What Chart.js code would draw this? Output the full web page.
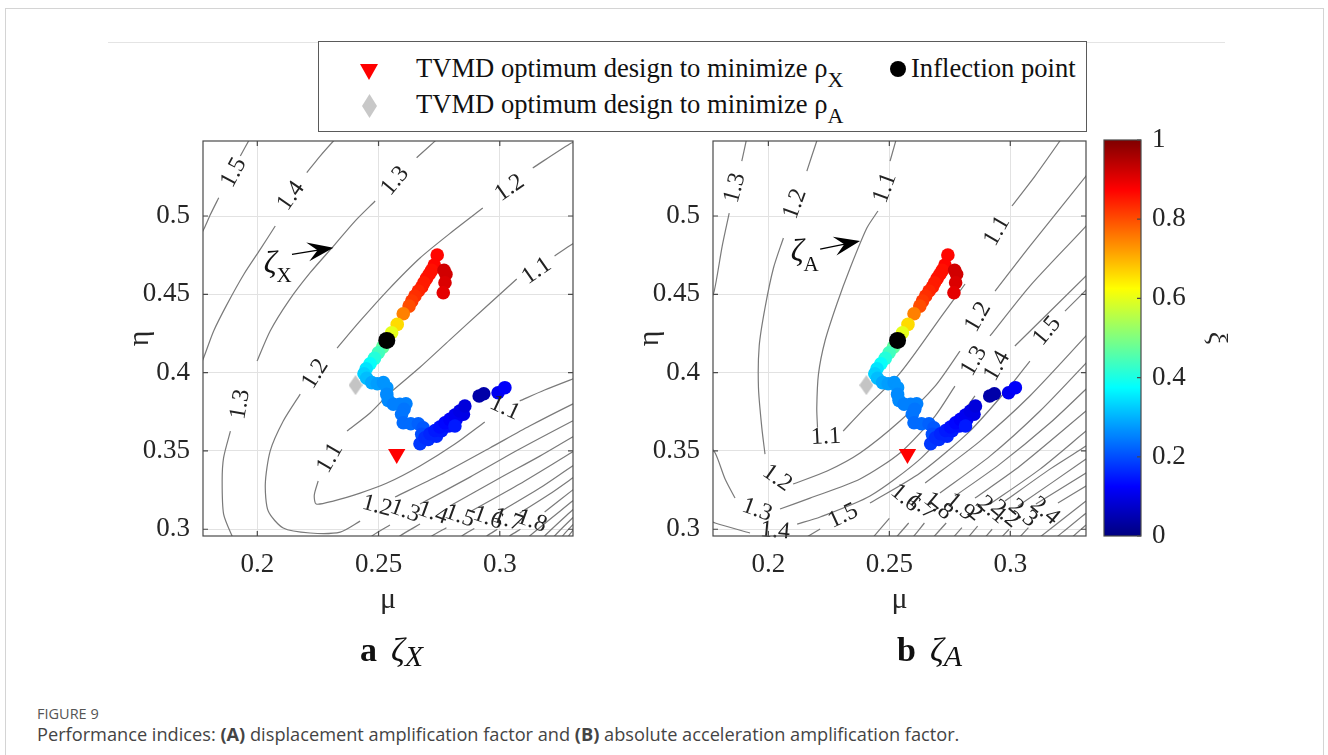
<!DOCTYPE html>
<html><head><meta charset="utf-8"><title>Figure 9</title>
<script src="https://cdn.jsdelivr.net/npm/chart.js@4.4.1/dist/chart.umd.min.js"></script>
<style>
html,body{margin:0;padding:0;background:#fff;}
body{width:1328px;height:755px;position:relative;overflow:hidden;font-family:"Liberation Serif","Times New Roman",serif;color:#111;}
#frame{position:absolute;left:5px;top:8px;width:1317px;height:760px;border:1px solid #d4d4d4;border-bottom:none;}
#rule{position:absolute;left:108px;top:42px;width:1117px;height:1px;background:#e4e4e4;}
canvas{position:absolute;}
#legend{position:absolute;left:318px;top:41px;width:767px;height:89px;border:1px solid #5a5a5a;background:#fff;}
.lt{position:absolute;font-size:26.6px;line-height:30px;white-space:nowrap;color:#111;}
.lt .sb{font-size:22px;position:relative;top:10px;}
.mk{position:absolute;}
.sub{position:absolute;font-size:34px;line-height:40px;white-space:nowrap;color:#111;}
.sub b{margin-right:14px;}
.sub .z{font-style:italic;}
.sub .s{font-style:italic;font-size:30px;position:relative;top:5px;}
.cap1{position:absolute;left:37px;top:704px;font-family:"Open Sans",sans-serif;font-size:14.5px;color:#555;}
.cap2{position:absolute;left:37px;top:722px;font-family:"Open Sans",sans-serif;font-size:18.2px;color:#444;white-space:nowrap;}
</style></head><body>
<div id="frame"></div>
<div id="rule"></div>
<canvas id="cX" width="500" height="520" style="left:100px;top:120px"></canvas>
<canvas id="cA" width="500" height="520" style="left:610px;top:120px"></canvas>
<canvas id="cB" width="200" height="520" style="left:1095px;top:120px"></canvas>
<div id="legend">
  <div class="mk" style="left:41px;top:22px;width:18px;height:16px;background:#ff0000;clip-path:polygon(0 0,100% 0,50% 100%);"></div>
  <div class="mk" style="left:43px;top:52px;width:15px;height:24px;background:#c8c8c8;clip-path:polygon(50% 0,100% 50%,50% 100%,0 50%);"></div>
  <div class="mk" style="left:571px;top:19px;width:16px;height:16px;border-radius:50%;background:#000;"></div>
  <div class="lt" style="left:97px;top:11px">TVMD optimum design to minimize ρ<span class="sb">X</span></div>
  <div class="lt" style="left:97px;top:47px">TVMD optimum design to minimize ρ<span class="sb">A</span></div>
  <div class="lt" style="left:592px;top:11px">Inflection point</div>
</div>
<div class="sub" style="left:360px;top:630px"><b>a</b><span class="z">ζ</span><span class="s">X</span></div>
<div class="sub" style="left:897px;top:630px"><b>b</b><span class="z">ζ</span><span class="s">A</span></div>
<div class="cap1">FIGURE 9</div>
<div class="cap2">Performance indices: <b>(A)</b> displacement amplification factor and <b>(B)</b> absolute acceleration amplification factor.</div>
<script>
// ---------------- data ----------------
const xTicks = [0.2, 0.25, 0.3];
const xTickLabels = ['0.2', '0.25', '0.3'];
const yTicks = [0.3, 0.35, 0.4, 0.45, 0.5];
const yTickLabels = ['0.3', '0.35', '0.4', '0.45', '0.5'];
const cbTicks = [0, 0.2, 0.4, 0.6, 0.8, 1];
const cbTickLabels = ['0', '0.2', '0.4', '0.6', '0.8', '1'];

// TVMD designs along the path (mu, eta, xi)
const designMu = [0.2742,0.2730,0.2719,0.2709,0.2698,0.2687,0.2678,0.2664,0.2650,0.2637,0.2626,0.2602,0.2577,0.2554,0.2517,0.2499,0.2483,0.2465,0.2449,0.2440,
  0.2770,0.2778,0.2774,0.2767,
  0.2451,0.2472,0.2495,0.2520,0.2534,0.2534,0.2540,0.2561,0.2588,0.2613,0.2605,0.2595,0.2602,0.2633,0.2664,0.2684,0.2678,0.2671,
  0.2691,0.2705,0.2712,0.2739,0.2733,0.2760,0.2753,0.2790,0.2774,0.2820,0.2794,0.2850,0.2815,0.2835,0.2856,0.2815,
  0.2915,0.2934,0.2993,0.3021];
const designEta = [0.4751,0.4687,0.4653,0.4628,0.4602,0.4574,0.4547,0.4521,0.4489,0.4457,0.4425,0.4376,0.4308,0.4255,0.4163,0.4127,0.4091,0.4057,0.4025,0.3993,
  0.4653,0.4628,0.4574,0.4510,
  0.3964,0.3936,0.3929,0.3936,0.3904,0.3861,0.3823,0.3798,0.3798,0.3801,0.3766,0.3734,0.3680,0.3674,0.3674,0.3648,0.3606,0.3546,
  0.3584,0.3574,0.3610,0.3595,0.3631,0.3630,0.3653,0.3660,0.3680,0.3700,0.3702,0.3735,0.3729,0.3755,0.3787,0.3659,
  0.3851,0.3865,0.3872,0.3904];
const designXi = [0.87,0.87,0.86,0.86,0.86,0.85,0.85,0.84,0.83,0.82,0.80,0.75,0.66,0.60,0.47,0.44,0.41,0.38,0.35,0.33,
  0.92,0.92,0.91,0.90,
  0.31,0.29,0.28,0.27,0.27,0.26,0.26,0.25,0.25,0.25,0.24,0.24,0.23,0.23,0.22,0.21,0.20,0.18,
  0.17,0.17,0.16,0.16,0.15,0.15,0.14,0.14,0.13,0.12,0.12,0.10,0.11,0.10,0.09,0.15,
  0.04,0.04,0.11,0.12];
const inflection = [0.2534, 0.4206];
const optX = [0.2575, 0.3480];
const optA = [0.2405, 0.3920];

// ---- contour lines of zeta_X (panel a), [mu, eta], null = label gap ----
const contX_15a = [[0.1760,0.4860],[0.1779,0.4915],[0.1807,0.5011],[0.1841,0.5117],null,[0.1930,0.5383],[0.1964,0.5479],[0.1980,0.5520]];
const contX_14a = [[0.1760,0.4040],[0.1776,0.4085],[0.1820,0.4266],[0.1875,0.4436],[0.1944,0.4627],[0.2012,0.4787],[0.2074,0.4936],null,[0.2204,0.5277],[0.2259,0.5383],[0.2314,0.5479],[0.2340,0.5520]];
const contX_13a = [[0.2760,0.5520],[0.2733,0.5479],[0.2657,0.5372],null,[0.2486,0.5096],[0.2403,0.4968],[0.2314,0.4808],[0.2218,0.4638],[0.2129,0.4457],[0.2053,0.4266],[0.1999,0.4074],null,[0.1889,0.3627],[0.1861,0.3457],[0.1855,0.3308],[0.1861,0.3097],[0.1896,0.2957],[0.1910,0.2920]];
const contX_12 = [[0.3320,0.5480],[0.3288,0.5460],[0.3136,0.5307],null,[0.2930,0.5051],[0.2807,0.4904],[0.2671,0.4732],[0.2535,0.4521],[0.2424,0.4330],[0.2329,0.4157],null,[0.2177,0.3863],[0.2107,0.3691],[0.2053,0.3499],[0.2033,0.3289],[0.2045,0.3116],[0.2107,0.3008],[0.2218,0.2976],[0.2342,0.2982],[0.2424,0.3052],null,[0.2568,0.3206],[0.2753,0.3346],[0.2959,0.3519],[0.3123,0.3659],[0.3300,0.3799],[0.3320,0.3810]];
const contX_11 = [[0.3320,0.4835],[0.3300,0.4821],[0.3226,0.4745],null,[0.3070,0.4598],[0.2938,0.4413],[0.2794,0.4209],[0.2671,0.4034],[0.2547,0.3870],[0.2465,0.3742],[0.2370,0.3627],null,[0.2251,0.3308],[0.2235,0.3218],[0.2243,0.3161],[0.2313,0.3180],[0.2424,0.3231],[0.2535,0.3295],[0.2671,0.3404],[0.2815,0.3544],[0.2938,0.3685],null,[0.3082,0.3819],[0.3185,0.3889],[0.3300,0.3959],[0.3320,0.3970]];
const contX_13b = [[0.2460,0.2930],[0.2473,0.2957],[0.2547,0.3027],null,[0.2671,0.3161],[0.2877,0.3333],[0.3082,0.3512],[0.3300,0.3691],[0.3320,0.3705]];
const contX_14b = [[0.2575,0.2930],[0.2588,0.2957],[0.2671,0.3033],null,[0.2794,0.3148],[0.3000,0.3327],[0.3165,0.3467],[0.3300,0.3589],[0.3320,0.3605]];
const contX_15b = [[0.2705,0.2930],[0.2720,0.2957],[0.2780,0.3010],null,[0.2885,0.3118],[0.3082,0.3289],[0.3300,0.3493],[0.3320,0.3510]];
const contX_16 = [[0.2830,0.2930],[0.2844,0.2957],[0.2895,0.3005],null,[0.3000,0.3110],[0.3165,0.3263],[0.3300,0.3404],[0.3320,0.3420]];
const contX_17 = [[0.2935,0.2930],[0.2947,0.2957],[0.2990,0.3000],null,[0.3082,0.3103],[0.3206,0.3225],[0.3300,0.3327],[0.3320,0.3350]];
const contX_18 = [[0.3030,0.2930],[0.3041,0.2957],[0.3085,0.3000],null,[0.3185,0.3110],[0.3300,0.3250],[0.3320,0.3275]];
const contX_19 = [[0.3115,0.2930],[0.3123,0.2957],[0.3300,0.3180],[0.3320,0.3205]];
const contX_20 = [[0.3178,0.2930],[0.3185,0.2957],[0.3300,0.3123],[0.3320,0.3150]];
const contX_21 = [[0.3220,0.2930],[0.3226,0.2957],[0.3300,0.3072],[0.3320,0.3100]];
const contX_22 = [[0.3255,0.2930],[0.3259,0.2957],[0.3300,0.3027],[0.3320,0.3060]];
const contX_23 = [[0.3281,0.2930],[0.3284,0.2957],[0.3300,0.2989],[0.3320,0.3030]];
// contour labels [mu, eta, angle deg, text]
const labelsX = [
  [0.1903,0.5277,-62,'1.5'],[0.2139,0.5128,-55,'1.4'],[0.2568,0.5224,-50,'1.3'],[0.1930,0.3797,-80,'1.3'],
  [0.3041,0.5179,-35,'1.2'],[0.2239,0.3991,-58,'1.2'],[0.2494,0.3148,15,'1.2'],
  [0.3152,0.4649,-35,'1.1'],[0.2300,0.3455,-60,'1.1'],[0.3021,0.3774,25,'1.1'],
  [0.2609,0.3116,20,'1.3'],[0.2724,0.3103,20,'1.4'],[0.2835,0.3084,20,'1.5'],[0.2951,0.3072,20,'1.6'],[0.3033,0.3059,20,'1.7'],[0.3132,0.3052,20,'1.8']
];
const arrowX = [0.2143,0.4755,0.2314,0.4798];
const zetaX = [0.2053,0.4693,'X'];

// ---- contour lines of zeta_A (panel b) ----
const contA_13a = [[0.1750,0.4420],[0.1776,0.4521],[0.1809,0.4808],[0.1838,0.5019],null,[0.1890,0.5351],[0.1908,0.5479],[0.1916,0.5543]];
const contA_12 = [[0.2215,0.5543],[0.2200,0.5479],[0.2159,0.5287],null,[0.2062,0.4860],[0.2021,0.4668],[0.1986,0.4413],[0.1962,0.4170],[0.1959,0.3902],[0.1973,0.3646],[0.1986,0.3480],null,[0.2102,0.3289],[0.2243,0.3372],[0.2379,0.3487],[0.2544,0.3691],[0.2689,0.3914],[0.2792,0.4138],null,[0.2937,0.4521],[0.3081,0.4808],[0.3313,0.5255],[0.3340,0.5310]];
const contA_11 = [[0.2540,0.5575],[0.2532,0.5511],[0.2503,0.5351],null,[0.2453,0.5032],[0.2407,0.4923],[0.2338,0.4668],[0.2283,0.4438],[0.2234,0.4202],[0.2207,0.3991],[0.2200,0.3774],[0.2203,0.3650],null,[0.2309,0.3627],[0.2379,0.3742],[0.2544,0.3997],[0.2722,0.4374],[0.2813,0.4566],null,[0.3007,0.5064],[0.3102,0.5255],[0.3205,0.5479],[0.3247,0.5575]];
const contA_13b = [[0.1738,0.3563],[0.1780,0.3487],[0.1821,0.3321],[0.1862,0.3199],null,[0.2048,0.3129],[0.2172,0.3199],[0.2379,0.3321],[0.2544,0.3487],[0.2689,0.3723],[0.2771,0.3914],null,[0.2916,0.4234],[0.3081,0.4553],[0.3313,0.4936],[0.3340,0.4990]];
const contA_14 = [[0.1738,0.3065],[0.1780,0.3040],[0.1924,0.2976],null,[0.2119,0.3033],[0.2214,0.3078],[0.2420,0.3212],[0.2627,0.3448],[0.2792,0.3723],[0.2854,0.3851],null,[0.3019,0.4170],[0.3313,0.4617],[0.3340,0.4660]];
const contA_15 = [[0.2131,0.2925],[0.2214,0.3001],null,[0.2420,0.3167],[0.2627,0.3359],[0.2833,0.3627],[0.2999,0.3914],[0.3081,0.4074],null,[0.3226,0.4393],[0.3330,0.4553]];
const contA_16 = [[0.2420,0.2925],[0.2500,0.3070],null,[0.2648,0.3295],[0.2875,0.3563],[0.3081,0.3851],[0.3313,0.4234],[0.3340,0.4280]];
const contA_17 = [[0.2515,0.2925],[0.2580,0.3040],null,[0.2709,0.3231],[0.2916,0.3467],[0.3123,0.3755],[0.3313,0.4061],[0.3340,0.4110]];
const contA_18 = [[0.2585,0.2925],[0.2645,0.3040],null,[0.2771,0.3212],[0.2957,0.3416],[0.3164,0.3678],[0.3313,0.3895],[0.3340,0.3940]];
const contA_19 = [[0.2668,0.2925],[0.2735,0.3040],null,[0.2854,0.3199],[0.3040,0.3404],[0.3313,0.3755],[0.3340,0.3790]];
const contA_20 = [[0.2751,0.2925],[0.2800,0.3010],null,[0.2916,0.3161],[0.3123,0.3384],[0.3313,0.3627],[0.3340,0.3660]];
const contA_21 = [[0.2813,0.2925],[0.2865,0.3020],null,[0.2978,0.3180],[0.3164,0.3384],[0.3313,0.3531],[0.3340,0.3560]];
const contA_22 = [[0.2883,0.2925],[0.2925,0.3000],null,[0.3032,0.3148],[0.3313,0.3448],[0.3340,0.3480]];
const contA_23 = [[0.2949,0.2925],[0.2995,0.3000],null,[0.3106,0.3161],[0.3313,0.3359],[0.3340,0.3390]];
const contA_24 = [[0.3024,0.2925],[0.3075,0.3010],null,[0.3197,0.3167],[0.3313,0.3276],[0.3340,0.3300]];
const contA_25 = [[0.3102,0.2925],[0.3313,0.3180],[0.3340,0.3210]];
const contA_26 = [[0.3172,0.2925],[0.3313,0.3103],[0.3340,0.3130]];
const contA_27 = [[0.3238,0.2925],[0.3313,0.3027],[0.3340,0.3060]];
const labelsA = [
  [0.1862,0.5179,-75,'1.3'],[0.2110,0.5077,-70,'1.2'],[0.2482,0.5179,-70,'1.1'],[0.2945,0.4904,-60,'1.1'],
  [0.2238,0.3589,-3,'1.1'],[0.2036,0.3327,35,'1.2'],[0.2867,0.4355,-60,'1.2'],
  [0.1953,0.3123,20,'1.3'],[0.2850,0.4074,-60,'1.3'],[0.2028,0.2989,5,'1.4'],[0.2945,0.4042,-60,'1.4'],
  [0.2309,0.3084,-25,'1.5'],[0.3152,0.4266,-50,'1.5'],
  [0.2565,0.3199,40,'1.6'],[0.2635,0.3148,40,'1.7'],[0.2701,0.3148,40,'1.8'],[0.2792,0.3142,40,'1.9'],
  [0.2854,0.3103,40,'2'],[0.2924,0.3123,40,'2.1'],[0.2978,0.3097,40,'2.2'],[0.3052,0.3103,40,'2.3'],[0.3143,0.3116,40,'2.4']
];
const arrowA = [0.2214,0.4789,0.2379,0.4840];
const zetaA = [0.2119,0.4764,'A'];

const contoursX = [contX_15a,contX_14a,contX_13a,contX_12,contX_11,contX_13b,contX_14b,contX_15b,contX_16,contX_17,contX_18,contX_19,contX_20,contX_21,contX_22,contX_23];
const contoursA = [contA_13a,contA_12,contA_11,contA_13b,contA_14,contA_15,contA_16,contA_17,contA_18,contA_19,contA_20,contA_21,contA_22,contA_23,contA_24,contA_25,contA_26,contA_27];

// ---------------- styling helpers ----------------
function clamp(v){ return Math.max(0, Math.min(1, v)); }
function jet(v){
  const r = clamp(Math.min(4*v-1.5, -4*v+4.5));
  const g = clamp(Math.min(4*v-0.5, -4*v+3.5));
  const b = clamp(Math.min(4*v+0.5, -4*v+2.5));
  return 'rgb(' + Math.round(r*255) + ',' + Math.round(g*255) + ',' + Math.round(b*255) + ')';
}
function toXY(arr){ return arr.map(p => p ? {x:p[0], y:p[1]} : {x:null, y:null}); }
function noPad(s){ s.paddingTop = 0; s.paddingBottom = 0; s.paddingLeft = 0; s.paddingRight = 0; }

const diamondImg = document.createElement('canvas');
diamondImg.width = 14; diamondImg.height = 20;
(function(){ const c = diamondImg.getContext('2d'); c.fillStyle = '#c4c4c4'; c.beginPath(); c.moveTo(7,0); c.lineTo(14,10); c.lineTo(7,20); c.lineTo(0,10); c.closePath(); c.fill(); })();

Chart.defaults.font.family = '"Liberation Serif", "Times New Roman", serif';
Chart.defaults.color = '#262626';

const decoPlugin = {
  id: 'deco',
  afterDatasetsDraw(chart) {
    const o = chart.options.plugins.deco;
    if (!o) return;
    const {ctx, chartArea: a} = chart;
    const xs = chart.scales.x, ys = chart.scales.y;
    ctx.save();
    // contour labels
    ctx.fillStyle = '#222';
    ctx.font = '24px "Liberation Serif"';
    ctx.textAlign = 'center'; ctx.textBaseline = 'middle';
    for (const [m, e, ang, t] of o.labels) {
      ctx.save();
      ctx.translate(xs.getPixelForValue(m), ys.getPixelForValue(e));
      ctx.rotate(ang * Math.PI / 180);
      ctx.fillText(t, 0, 0);
      ctx.restore();
    }
    // arrow annotation
    const [m0, e0, m1, e1] = o.arrow;
    const x0 = xs.getPixelForValue(m0), y0 = ys.getPixelForValue(e0);
    const x1 = xs.getPixelForValue(m1), y1 = ys.getPixelForValue(e1);
    const L = Math.hypot(x1-x0, y1-y0), ux = (x1-x0)/L, uy = (y1-y0)/L, nx = -uy, ny = ux;
    const hl = 26, hw = 9.5;
    ctx.strokeStyle = '#000'; ctx.lineWidth = 1.4;
    ctx.beginPath(); ctx.moveTo(x0, y0); ctx.lineTo(x1 - ux*hl*0.6, y1 - uy*hl*0.6); ctx.stroke();
    ctx.fillStyle = '#000';
    ctx.beginPath();
    ctx.moveTo(x1, y1);
    ctx.lineTo(x1 - ux*hl + nx*hw, y1 - uy*hl + ny*hw);
    ctx.lineTo(x1 - ux*hl*0.62, y1 - uy*hl*0.62);
    ctx.lineTo(x1 - ux*hl - nx*hw, y1 - uy*hl - ny*hw);
    ctx.closePath(); ctx.fill();
    // zeta symbol
    const zx = xs.getPixelForValue(o.zeta[0]), zy = ys.getPixelForValue(o.zeta[1]);
    ctx.fillStyle = '#111';
    ctx.font = 'italic 32px "Liberation Serif"';
    ctx.fillText('ζ', zx, zy);
    ctx.font = '21px "Liberation Serif"';
    ctx.fillText(o.zeta[2], zx + 14, zy + 12);
    // box and inward ticks
    ctx.strokeStyle = '#4a4a4a'; ctx.lineWidth = 1.2;
    ctx.strokeRect(a.left, a.top, a.right - a.left, a.bottom - a.top);
    ctx.beginPath();
    for (const v of xTicks) {
      const p = xs.getPixelForValue(v);
      ctx.moveTo(p, a.bottom); ctx.lineTo(p, a.bottom - 5);
      ctx.moveTo(p, a.top); ctx.lineTo(p, a.top + 5);
    }
    for (const v of yTicks) {
      const p = ys.getPixelForValue(v);
      ctx.moveTo(a.left, p); ctx.lineTo(a.left + 5, p);
      ctx.moveTo(a.right, p); ctx.lineTo(a.right - 5, p);
    }
    ctx.stroke();
    ctx.restore();
  }
};

function buildPlot(id, contours, labels, arrow, zeta, xmin, xmax, padRight) {
  const datasets = [
    {data:[{x:inflection[0], y:inflection[1]}], pointRadius:8.5, pointBackgroundColor:'#000', pointBorderWidth:0, order:0},
    {data:[{x:optX[0], y:optX[1]}], pointStyle:'triangle', pointRotation:180, pointRadius:10, pointBackgroundColor:'#ff0000', pointBorderWidth:0, order:0},
    {data:[{x:optA[0], y:optA[1]}], pointStyle:diamondImg, pointRadius:10, order:0},
    {data:designMu.map((m, i) => ({x:m, y:designEta[i]})), pointRadius:6.8, pointBackgroundColor:designXi.map(jet), pointBorderWidth:0, order:1}
  ];
  for (const c of contours) {
    datasets.push({data:toXY(c), showLine:true, pointRadius:0, borderColor:'#7a7a7a', borderWidth:1.2, tension:0.25, spanGaps:false, clip:0, order:2});
  }
  return new Chart(document.getElementById(id), {
    type:'scatter',
    data:{datasets},
    options:{
      responsive:false, animation:false, devicePixelRatio:1, events:[],
      layout:{padding:{left:0, right:padRight, top:21, bottom:0}},
      plugins:{legend:{display:false}, tooltip:{enabled:false}, deco:{labels, arrow, zeta}},
      scales:{
        x:{type:'linear', min:xmin, max:xmax,
           afterBuildTicks:s => { s.ticks = xTicks.map(v => ({value:v})); },
           afterFit:s => { s.height = 104; noPad(s); },
           ticks:{autoSkip:false, maxRotation:0, padding:13, font:{size:27}, color:'#262626', callback:(v, i) => xTickLabels[i]},
           grid:{color:'#e2e2e2', lineWidth:1, drawTicks:false}, border:{display:false},
           title:{display:true, text:'μ', font:{size:30}, color:'#262626', padding:{top:0, bottom:22}}},
        y:{type:'linear', min:0.2957, max:0.5479,
           afterBuildTicks:s => { s.ticks = yTicks.map(v => ({value:v})); },
           afterFit:s => { s.width = 103; noPad(s); },
           ticks:{autoSkip:false, padding:13, font:{size:27}, color:'#262626', callback:(v, i) => yTickLabels[i]},
           grid:{color:'#e2e2e2', lineWidth:1, drawTicks:false}, border:{display:false},
           title:{display:true, text:'η', font:{size:30}, color:'#262626', padding:{top:22, bottom:0}}}
      }
    },
    plugins:[decoPlugin]
  });
}

buildPlot('cX', contoursX, labelsX, arrowX, zetaX, 0.1776, 0.3302, 27);
buildPlot('cA', contoursA, labelsA, arrowA, zetaA, 0.1771, 0.3313, 24);

// colour bar
const cbarPlugin = {
  id:'cbar',
  beforeDatasetsDraw(chart) {
    const {ctx, chartArea:a} = chart;
    const ys = chart.scales.y;
    ctx.save();
    const g = ctx.createLinearGradient(0, a.bottom, 0, a.top);
    for (let i = 0; i <= 64; i++) { const v = i/64; g.addColorStop(v, jet(v)); }
    ctx.fillStyle = g;
    ctx.fillRect(a.left, a.top, a.right - a.left, a.bottom - a.top);
    ctx.strokeStyle = '#4a4a4a'; ctx.lineWidth = 1.2;
    ctx.strokeRect(a.left, a.top, a.right - a.left, a.bottom - a.top);
    ctx.beginPath();
    for (const v of cbTicks) { const p = ys.getPixelForValue(v); ctx.moveTo(a.right, p); ctx.lineTo(a.right - 4, p); }
    ctx.stroke();
    ctx.restore();
  }
};
new Chart(document.getElementById('cB'), {
  type:'scatter',
  data:{datasets:[]},
  options:{
    responsive:false, animation:false, devicePixelRatio:1, events:[],
    layout:{padding:{left:9, right:0, top:20, bottom:104}},
    plugins:{legend:{display:false}, tooltip:{enabled:false}},
    scales:{
      x:{type:'linear', display:false, min:0, max:1},
      y:{type:'linear', position:'right', min:0, max:1,
         afterBuildTicks:s => { s.ticks = cbTicks.map(v => ({value:v})); },
         afterFit:s => { s.width = 154; noPad(s); },
         ticks:{autoSkip:false, padding:11, font:{size:27}, color:'#262626', callback:(v, i) => cbTickLabels[i]},
         grid:{display:false, drawTicks:false}, border:{display:false},
         title:{display:true, text:'ξ', font:{size:28}, color:'#262626', padding:{top:62, bottom:0}}}
    }
  },
  plugins:[cbarPlugin]
});
</script>
</body></html>
